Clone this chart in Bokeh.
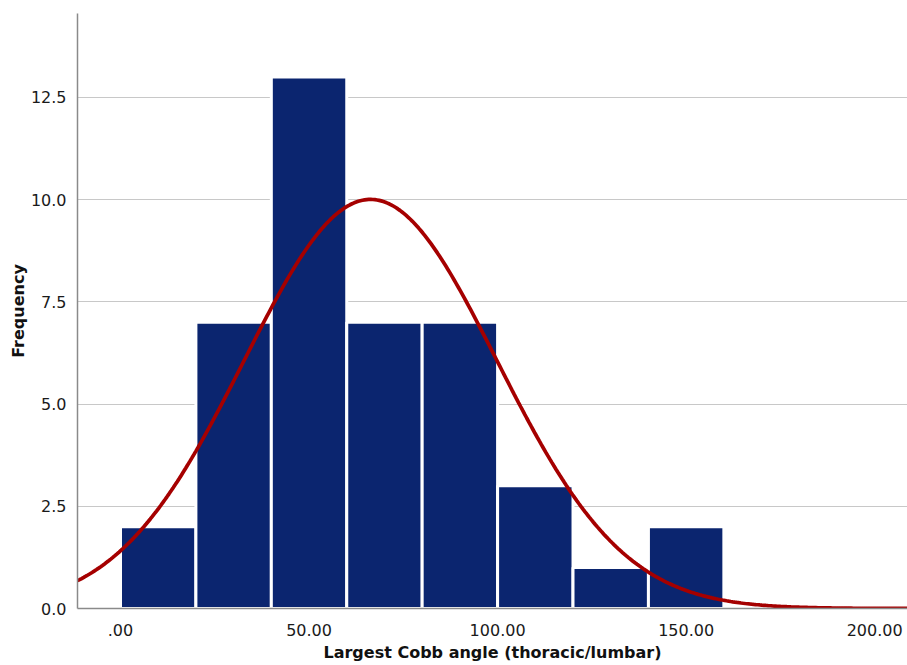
import numpy as np
from bokeh.plotting import figure
from bokeh.models import Range1d, FixedTicker, ColumnDataSource
from bokeh.embed import file_html
from bokeh.resources import INLINE

# Histogram data
bin_left = [0, 20, 40, 60, 80, 100, 120, 140]
bin_right = [20, 40, 60, 80, 100, 120, 140, 160]
counts = [2, 7, 13, 7, 7, 3, 1, 2]

# Normal curve parameters (SPSS fit)
curve_mean = 66.3
curve_sd = 33.5
n_total = 42
bin_width = 20

x_ticks = [0, 50, 100, 150, 200]
x_tick_labels = [".00", "50.00", "100.00", "150.00", "200.00"]
y_ticks = [0, 2.5, 5, 7.5, 10, 12.5]
y_tick_labels = ["0.0", "2.5", "5.0", "7.5", "10.0", "12.5"]

p = figure(width=907, height=665, output_backend="svg", toolbar_location=None,
           x_range=Range1d(-11.4, 208.7), y_range=Range1d(0, 14.55),
           min_border_left=77, min_border_right=0, min_border_top=13, min_border_bottom=57)
p.outline_line_color = None
p.background_fill_color = "white"

src = ColumnDataSource(dict(left=bin_left, right=bin_right, top=counts, bottom=[0]*len(counts)))
p.quad(left="left", right="right", top="top", bottom="bottom", source=src,
       fill_color="#0b256f", line_color="white", line_width=3)

xs = np.linspace(-11.4, 208.7, 400)
ys = n_total * bin_width / (curve_sd * np.sqrt(2 * np.pi)) * np.exp(-0.5 * ((xs - curve_mean) / curve_sd) ** 2)
p.line(xs, ys, line_color="#a50000", line_width=3.7)

p.xgrid.visible = False
p.ygrid.grid_line_color = "#c8c8c8"
p.ygrid.grid_line_width = 1
p.ygrid.ticker = FixedTicker(ticks=y_ticks[1:])
p.ygrid.level = "underlay"

p.xaxis.ticker = FixedTicker(ticks=x_ticks)
p.xaxis.major_label_overrides = {t: l for t, l in zip(x_ticks, x_tick_labels)}
p.yaxis.ticker = FixedTicker(ticks=y_ticks)
p.yaxis.major_label_overrides = {t: l for t, l in zip(y_ticks, y_tick_labels)}

for ax in (p.xaxis, p.yaxis):
    ax.major_tick_line_color = None
    ax.minor_tick_line_color = None
    ax.axis_line_color = "#8a8a8a"
    ax.axis_line_width = 1.5
    ax.major_label_text_font = "DejaVu Sans"
    ax.major_label_text_font_size = "16px"
    ax.major_label_text_color = "#1a1a1a"
    ax.axis_label_text_font = "DejaVu Sans"
    ax.axis_label_text_font_size = "16px"
    ax.axis_label_text_font_style = "bold"
    ax.axis_label_text_color = "#111111"

p.xaxis.axis_label = "Largest Cobb angle (thoracic/lumbar)"
p.yaxis.axis_label = "Frequency"
p.xaxis.major_label_standoff = 9
p.yaxis.major_label_standoff = 5
p.xaxis.axis_label_standoff = 4
p.yaxis.axis_label_standoff = 0

open("out.html", "w").write(file_html(p, INLINE))
